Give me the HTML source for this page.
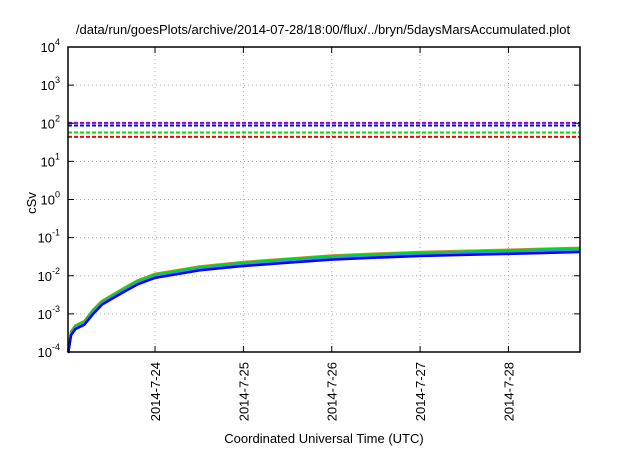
<!DOCTYPE html>
<html><head><meta charset="utf-8"><style>
body{margin:0;background:#fff;}
text{font-family:"Liberation Sans",sans-serif;fill:#000;}
</style></head><body>
<svg id="chart" width="640" height="448" xmlns="http://www.w3.org/2000/svg">
<text x="323" y="34" font-size="13" text-anchor="middle">/data/run/goesPlots/archive/2014-07-28/18:00/flux/../bryn/5daysMarsAccumulated.plot</text>
<text x="36" y="203" font-size="13" text-anchor="middle" transform="rotate(-90 36 203)">cSv</text>
<text x="324" y="443" font-size="13" text-anchor="middle">Coordinated Universal Time (UTC)</text>
<g id="grid"></g><g id="series"></g><g id="axes"></g>
</svg>
<script>
const yTickExps=[-4,-3,-2,-1,0,1,2,3,4];
const xTickDays=[24,25,26,27,28];
const xTickLabels=["2014-7-24","2014-7-25","2014-7-26","2014-7-27","2014-7-28"];
const thresholdValues=[102,87,57,44];
const thresholdColors=["#9400d3","#0000ff","#00dd00","#ff0000"];
const days=[23.02,23.05,23.1,23.2,23.3,23.4,23.5,23.65,23.8,24.0,24.25,24.5,24.75,25.0,25.5,26.0,26.5,27.0,27.5,28.0,28.4,28.81];
const seriesOrange=[1.2e-4,3.5e-4,5e-4,6.5e-4,1.3e-3,2.2e-3,3e-3,4.8e-3,7.5e-3,1.12e-2,1.4e-2,1.75e-2,2e-2,2.3e-2,2.8e-2,3.4e-2,3.8e-2,4.2e-2,4.5e-2,4.8e-2,5.1e-2,5.4e-2];
const seriesGreen=[1.15e-4,3.3e-4,4.8e-4,6.2e-4,1.25e-3,2.1e-3,2.9e-3,4.6e-3,7.2e-3,1.07e-2,1.34e-2,1.68e-2,1.92e-2,2.2e-2,2.7e-2,3.25e-2,3.65e-2,4e-2,4.3e-2,4.6e-2,4.9e-2,5.2e-2];
const seriesCyan=[1.05e-4,3e-4,4.3e-4,5.6e-4,1.1e-3,1.9e-3,2.6e-3,4.1e-3,6.4e-3,9.5e-3,1.2e-2,1.5e-2,1.72e-2,1.97e-2,2.42e-2,2.9e-2,3.25e-2,3.6e-2,3.85e-2,4.1e-2,4.35e-2,4.6e-2];
const seriesBlue=[1e-4,2.8e-4,4e-4,5.2e-4,1e-3,1.75e-3,2.4e-3,3.8e-3,5.9e-3,8.8e-3,1.1e-2,1.38e-2,1.58e-2,1.8e-2,2.2e-2,2.65e-2,2.98e-2,3.3e-2,3.52e-2,3.75e-2,3.95e-2,4.2e-2];
const L=68,R=580,T=47,B=352,X0=23.015,X1=28.81;
const xS=d=>L+(d-X0)/(X1-X0)*(R-L);
const yS=v=>B-(Math.log10(v)+4)/8*(B-T);
const NS="http://www.w3.org/2000/svg";
function mk(t,a,p){const e=document.createElementNS(NS,t);for(const k in a)e.setAttribute(k,a[k]);p.appendChild(e);return e;}
const grid=document.getElementById('grid'),axes=document.getElementById('axes'),ser=document.getElementById('series');
yTickExps.forEach(e=>{const y=yS(Math.pow(10,e));
 if(e>-4&&e<4){const g=mk('line',{x1:L,x2:R,y1:y,y2:y,stroke:'#aaa','stroke-dasharray':'1,3'},grid);
 
 }
 const t1=mk('line',{x1:L,x2:L+6,y1:y,y2:y,stroke:'#000'},axes);
 
 
 const t2=mk('line',{x1:R-6,x2:R,y1:y,y2:y,stroke:'#000'},axes);
 
 
 const tx=mk('text',{x:L-8,y:y+5,'font-size':13,'text-anchor':'end'},axes);
 
 
 tx.textContent='10';const s=mk('tspan',{dy:-7,'font-size':9},tx);s.textContent=String(e);
});
xTickDays.forEach((d,i)=>{const x=xS(d);
 const g=mk('line',{x1:x,x2:x,y1:T,y2:B,stroke:'#aaa','stroke-dasharray':'1,3'},grid);
 
 
 const t1=mk('line',{x1:x,x2:x,y1:B-6,y2:B,stroke:'#000'},axes);
 
 
 const t2=mk('line',{x1:x,x2:x,y1:T,y2:T+6,stroke:'#000'},axes);
 
 
 const tx=mk('text',{x:x+5,y:B+10,'font-size':13,'text-anchor':'end',transform:`rotate(-90 ${x+5} ${B+10})`},axes);
 
 
 tx.textContent=xTickLabels[i];
});
thresholdValues.forEach((v,i)=>{const y=yS(v);
 const l=mk('line',{x1:L,x2:R,y1:y,y2:y,stroke:thresholdColors[i],'stroke-width':2,'stroke-dasharray':'4,2'},ser);
 
 
});
[[seriesOrange,'#e08040'],[seriesGreen,'#00dd00'],[seriesCyan,'#3090ff'],[seriesBlue,'#0000ff']].forEach(([vals,c])=>{
 const pts=[[xS(X0),B]].concat(days.map((d,i)=>[xS(d),yS(vals[i])]));
 const p=mk('polyline',{points:pts.map(p=>p.join(',')).join(' '),fill:'none',stroke:c,'stroke-width':2.5},ser);
 
 
});
const f=mk('rect',{x:L,y:T,width:R-L,height:B-T,fill:'none',stroke:'#000','stroke-width':1.5},axes);


</script>
</body></html>
